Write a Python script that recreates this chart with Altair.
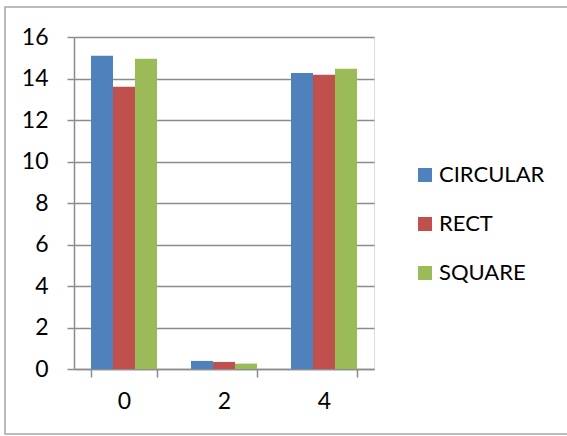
import altair as alt
import pandas as pd

# Grouped bar chart: three shapes measured at three positions
categories = ["0", "2", "4"]
series = ["CIRCULAR", "RECT", "SQUARE"]
circular = [15.1, 0.39, 14.27]
rect = [13.6, 0.34, 14.18]
square = [14.95, 0.26, 14.47]
y_ticks = [0, 2, 4, 6, 8, 10, 12, 14, 16]
colors = ["#4F81BD", "#C0504D", "#9BBB59"]

rows = []
for name, vals in zip(series, [circular, rect, square]):
    for cat, v in zip(categories, vals):
        rows.append({"cat": cat, "series": name, "value": v})
df = pd.DataFrame(rows)

FONT = "Lato"
GRID = "#8C8C8C"

bars = alt.Chart(df).mark_bar(stroke=None).encode(
    x=alt.X(
        "cat:N",
        sort=categories,
        scale=alt.Scale(paddingInner=0.34, paddingOuter=0.17),
        axis=alt.Axis(
            title=None,
            labelAngle=0,
            labelFont=FONT,
            labelFontSize=23,
            labelColor="#000000",
            labelPadding=13,
            tickBand="extent",
            tickSize=8,
            tickColor=GRID,
            domainColor=GRID,
            domainWidth=1.5,
            tickWidth=1.5,
            grid=False,
        ),
    ),
    xOffset=alt.XOffset("series:N", sort=series),
    y=alt.Y(
        "value:Q",
        scale=alt.Scale(domain=[0, 16], nice=False),
        axis=alt.Axis(
            title=None,
            values=y_ticks,
            labelFont=FONT,
            labelFontSize=23,
            labelColor="#000000",
            labelPadding=19,
            tickSize=7,
            tickColor=GRID,
            tickWidth=1.5,
            domainColor=GRID,
            domainWidth=1.5,
            grid=True,
            gridColor=GRID,
            gridWidth=1.5,
        ),
    ),
    color=alt.Color(
        "series:N",
        sort=series,
        scale=alt.Scale(domain=series, range=colors),
        legend=alt.Legend(
            title=None,
            orient="none",
            legendX=340,
            legendY=127,
            symbolType="square",
            symbolSize=196,
            symbolStrokeWidth=0,
            labelFont=FONT,
            labelFontSize=22,
            labelColor="#000000",
            labelOffset=3,
            rowPadding=27,
            padding=0,
        ),
    ),
)

# Outer frame around the whole chart
frame = alt.Chart(pd.DataFrame({"a": [0]})).mark_rect(
    fill=None, stroke="#A6A6A6", strokeWidth=1.5, clip=False
).encode(
    x=alt.value(-69), x2=alt.value(520), y=alt.value(-30), y2=alt.value(397)
)

chart = alt.layer(frame, bars).properties(
    width=300,
    height=332,
    padding={"left": 74, "top": 37, "right": 193, "bottom": 67},
    autosize=alt.AutoSizeParams(type="none"),
).configure_view(stroke=None).configure(background="#FFFFFF")

chart.save("out.html", embed_options={"renderer": "svg", "actions": False})
